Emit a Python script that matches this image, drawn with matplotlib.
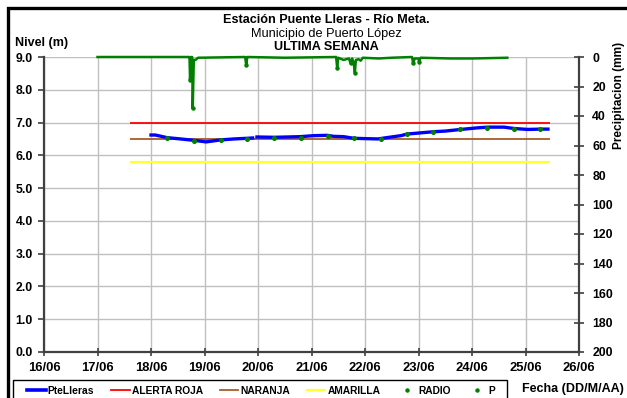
import matplotlib
matplotlib.use("Agg")
import matplotlib.pyplot as plt
from matplotlib.patches import Rectangle
from matplotlib.lines import Line2D
import numpy as np

plt.rcParams['font.family'] = ['Liberation Sans', 'DejaVu Sans']

# ---- data (day of June as decimal) ----
level_time = [18.00, 18.08, 18.30, 18.55, 18.79, 19.03, 19.30, 19.55, 19.80, 19.90,
              np.nan, 19.98, 20.30, 20.79, 21.04, 21.30, 21.41, 21.60, 21.79, 22.00,
              22.24, 22.45, 22.67, 22.79, 23.00, 23.28, 23.50, 23.79, 24.11, 24.30,
              24.60, 24.78, 25.04, 25.29, 25.42]
level_vals = [6.62, 6.62, 6.54, 6.50, 6.46, 6.41, 6.47, 6.50, 6.52, 6.53,
              np.nan, 6.56, 6.55, 6.57, 6.60, 6.61, 6.58, 6.57, 6.52, 6.51,
              6.50, 6.55, 6.60, 6.65, 6.68, 6.72, 6.74, 6.79, 6.84, 6.86,
              6.86, 6.82, 6.79, 6.80, 6.80]

radio_time = [18.30, 18.80, 19.30, 19.80, 20.30, 20.80, 21.30, 21.80, 22.30,
              22.79, 23.28, 23.78, 24.28, 24.78, 25.27]
radio_vals = [6.54, 6.45, 6.47, 6.50, 6.52, 6.53, 6.60, 6.52, 6.50,
              6.65, 6.71, 6.79, 6.82, 6.81, 6.79]

alert_start, alert_end = 17.6, 25.45
alerta_roja = 7.0
naranja = 6.5
amarilla = 5.8

precip_time = [17.00, 18.70, 18.72, 18.73, 18.75, 18.77, 18.78, 18.80, 18.83, 18.88,
               19.76, 19.78, 19.80, 20.50, 21.46, 21.48, 21.50, 21.60, 21.70, 21.73,
               21.76, 21.79, 21.81, 21.83, 21.88, 21.92, 21.96, 22.25, 22.50, 22.88,
               22.90, 22.93, 23.00, 23.01, 23.04, 23.60, 24.01, 24.66]
precip_vals = [0.0, 0.0, 0.0, 15.6, 0.0, 0.0, 34.9, 2.0, 2.0, 0.5,
               0.0, 5.4, 0.0, 0.5, 0.0, 7.3, 0.5, 2.0, 1.0, 4.3,
               1.0, 4.0, 10.6, 2.0, 1.5, 2.5, 0.5, 1.0, 0.5, 0.0,
               4.3, 1.0, 1.0, 3.2, 0.5, 1.0, 1.0, 0.5]

x_ticks = list(range(16, 27))
x_labels = ['16/06', '17/06', '18/06', '19/06', '20/06', '21/06', '22/06',
            '23/06', '24/06', '25/06', '26/06']
y_ticks = [0, 1, 2, 3, 4, 5, 6, 7, 8, 9]
p_ticks = list(range(0, 201, 20))

W, H = 627, 398
fig = plt.figure(figsize=(W / 100, H / 100), dpi=100)
ax = fig.add_axes([44 / W, 1 - 352 / H, (579 - 44) / W, (352 - 57) / H])

spine_c = '#404040'
ax.set_xlim(16, 26)
ax.set_ylim(0, 9)
ax.set_xticks(x_ticks)
ax.set_xticklabels(x_labels)
ax.set_yticks(y_ticks)
ax.set_yticklabels([f'{v:.1f}' for v in y_ticks])
ax.grid(True, color='#c0c0c0', linewidth=1.0)
ax.set_axisbelow(True)
ax.spines['top'].set_visible(False)
ax.spines['right'].set_visible(False)
for s in ['left', 'bottom']:
    ax.spines[s].set_color(spine_c)
    ax.spines[s].set_linewidth(1.6)
ax.tick_params(axis='y', direction='out', length=4, width=1.2, color=spine_c, pad=4)
ax.tick_params(axis='x', direction='inout', length=6, width=1.2, color=spine_c, pad=4)
for lab in ax.get_xticklabels():
    lab.set_fontweight('bold')
    lab.set_fontsize(9.4)
for lab in ax.get_yticklabels():
    lab.set_fontweight('bold')
    lab.set_fontsize(8.8)

ax.hlines(alerta_roja, alert_start, alert_end, color='#ff0000', lw=1.3)
ax.hlines(naranja, alert_start, alert_end, color='#a85a28', lw=1.3)
ax.hlines(amarilla, alert_start, alert_end, color='#ffff33', lw=1.6)
ax.plot(level_time, level_vals, color='#0000ff', lw=2.4)
ax.plot(radio_time, radio_vals, ls='none', marker='o', ms=2.6, color='#008000')

ax2 = ax.twinx()
ax2.set_ylim(200, 0)
ax2.set_yticks(p_ticks)
for s in ['top', 'left', 'bottom']:
    ax2.spines[s].set_visible(False)
ax2.spines['right'].set_color(spine_c)
ax2.spines['right'].set_linewidth(1.6)
ax2.tick_params(axis='y', direction='inout', length=7, width=1.2, color=spine_c, pad=6)
for lab in ax2.get_yticklabels():
    lab.set_fontweight('bold')
    lab.set_fontsize(8.8)
ax2.plot(precip_time, precip_vals, color='#008000', lw=1.8, marker='o', ms=2.2,
         markevery=[3, 6, 11, 15, 19, 22, 30, 33], clip_on=False)

# texts
fig.text(326 / W, 1 - 20 / H, 'Estación Puente Lleras - Río Meta.', ha='center', va='center',
         fontsize=9.1, fontweight='bold')
fig.text(326 / W, 1 - 34 / H, 'Municipio de Puerto López', ha='center', va='center',
         fontsize=9.2)
fig.text(326 / W, 1 - 46.5 / H, 'ULTIMA SEMANA', ha='center', va='center',
         fontsize=9.1, fontweight='bold')
fig.text(15 / W, 1 - 43 / H, 'Nivel (m)', ha='left', va='center', fontsize=9, fontweight='bold')
fig.text(619 / W, 1 - 95 / H, 'Precipitacion (mm)', ha='center', va='center', rotation=90,
         fontsize=8.6, fontweight='bold')
fig.text(573 / W, 1 - 389 / H, 'Fecha (DD/M/AA)', ha='center', va='center',
         fontsize=9, fontweight='bold')

handles = [
    Line2D([], [], color='#0000ff', lw=2.6),
    Line2D([], [], color='#ff0000', lw=1.3),
    Line2D([], [], color='#a85a28', lw=1.3),
    Line2D([], [], color='#ffff33', lw=1.6),
    Line2D([], [], color='#008000', ls='none', marker='o', ms=2.2),
    Line2D([], [], color='#008000', ls='none', marker='o', ms=2.2),
]
labels = ['PteLleras', 'ALERTA ROJA', 'NARANJA', 'AMARILLA', 'RADIO', 'P']
leg = fig.legend(handles, labels, loc='upper left', bbox_to_anchor=(27 / W, 1 - 386 / H),
                 ncol=6, frameon=False,
                 prop={'weight': 'bold', 'size': 7.4}, handlelength=1.8,
                 handletextpad=0.2, columnspacing=1.65, borderpad=0, borderaxespad=0)

# legend box
fig.patches.append(Rectangle((13 / W, -0.1), (507 - 13) / W, 0.1 + 1 - 380 / H,
                             transform=fig.transFigure, fill=False, edgecolor='black',
                             lw=1.0, clip_on=False))

# outer chart border
fig.patches.append(Rectangle((8 / W, -0.2), 1.2, 1.2 - 8 / H, transform=fig.transFigure,
                             fill=False, edgecolor='black', lw=2.4, clip_on=False))

fig.savefig('out.png', dpi=100)
